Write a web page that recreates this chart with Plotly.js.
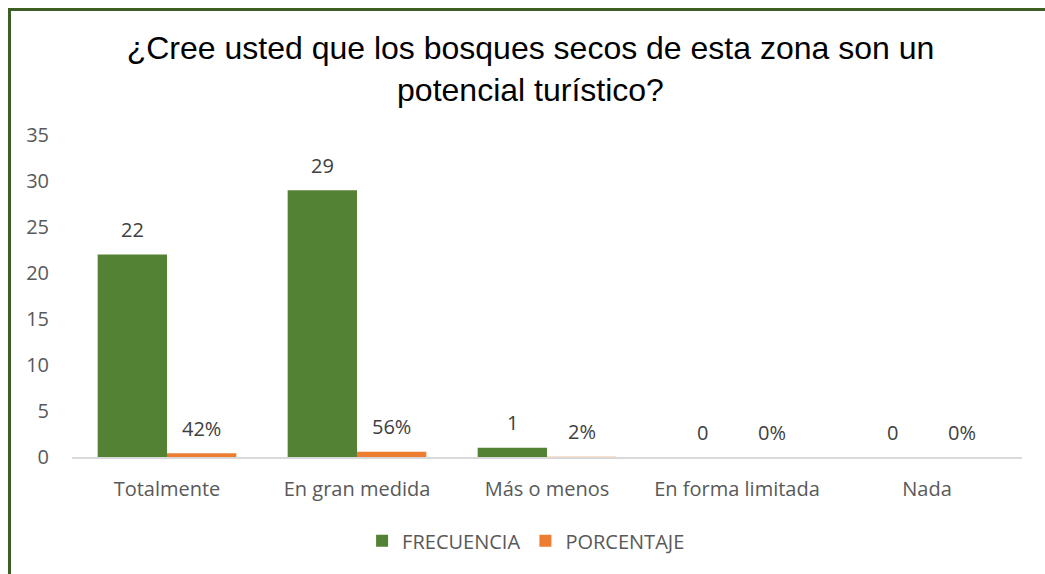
<!DOCTYPE html>
<html>
<head>
<meta charset="utf-8">
<script src="https://cdn.plot.ly/plotly-3.0.1.min.js"></script>
<style>
html,body{margin:0;padding:0;background:#fff;}
#wrap{position:relative;width:1045px;height:574px;overflow:hidden;}
#chart{width:1045px;height:574px;}
#frame{position:absolute;left:8px;top:8px;width:1100px;height:600px;border-left:3px solid #3d5f24;border-top:3px solid #3d5f24;pointer-events:none;}
</style>
</head>
<body>
<div id="wrap"><div id="chart"></div><div id="frame"></div></div>
<script>
var categories = ["Totalmente", "En gran medida", "Más o menos", "En forma limitada", "Nada"];
var frecuencia = [22, 29, 1, 0, 0];
var porcentaje = [0.42, 0.56, 0.02, 0, 0];
var yTicks = [0, 5, 10, 15, 20, 25, 30, 35];

var FONT = "'Open Sans', 'Noto Sans', sans-serif";
var labelFont = {family: FONT, size: 20, color: "#404040"};

var traces = [
  {
    type: "bar", name: "FRECUENCIA", x: categories, y: frecuencia,
    marker: {color: "#548235"}, hoverinfo: "none"
  },
  {
    type: "bar", name: "PORCENTAJE", x: categories, y: porcentaje,
    marker: {color: "#ed7d31"}, hoverinfo: "none"
  }
];

var annotations = [];
categories.forEach(function(c, i){
  annotations.push({
    x: c, y: frecuencia[i], xref: "x", yref: "y", text: String(frecuencia[i]),
    showarrow: false, xanchor: "center", yanchor: "middle", xshift: -34.5, yshift: 25,
    font: labelFont
  });
  annotations.push({
    x: c, y: porcentaje[i], xref: "x", yref: "y", text: Math.round(porcentaje[i]*100) + "%",
    showarrow: false, xanchor: "center", yanchor: "middle", xshift: 34.5, yshift: 25,
    font: labelFont
  });
});

var layout = {
  width: 1045, height: 574,
  margin: {l: 72, r: 23, t: 135, b: 117},
  paper_bgcolor: "#ffffff", plot_bgcolor: "#ffffff",
  title: {
    text: "¿Cree usted que los bosques secos de esta zona son un<br>potencial turístico?",
    font: {family: "'Liberation Sans', Arial, sans-serif", size: 32, color: "#000000"},
    x: 0.4826, xanchor: "center", y: 0.897, yanchor: "middle", xref: "paper", yref: "container"
  },
  barmode: "group", bargap: 0.27, bargroupgap: 0,
  xaxis: {
    showgrid: false, showline: true, linecolor: "#d9d9d9", linewidth: 2,
    ticks: "", tickfont: {family: FONT, size: 20, color: "#595959"},
    ticklabelstandoff: 13, fixedrange: true
  },
  yaxis: {
    range: [0, 35], tickvals: yTicks, showgrid: false, zeroline: false, showline: false,
    ticks: "", tickfont: {family: FONT, size: 20, color: "#595959"},
    ticklabelstandoff: 22, fixedrange: true
  },
  annotations: annotations,
  showlegend: true,
  legend: {
    orientation: "h", x: 0.478, xanchor: "center", y: -0.26, yanchor: "middle",
    font: {family: FONT, size: 20, color: "#595959"},
    itemwidth: 30, traceorder: "normal"
  }
};

Plotly.newPlot("chart", traces, layout, {displayModeBar: false, staticPlot: true});
</script>
</body>
</html>
